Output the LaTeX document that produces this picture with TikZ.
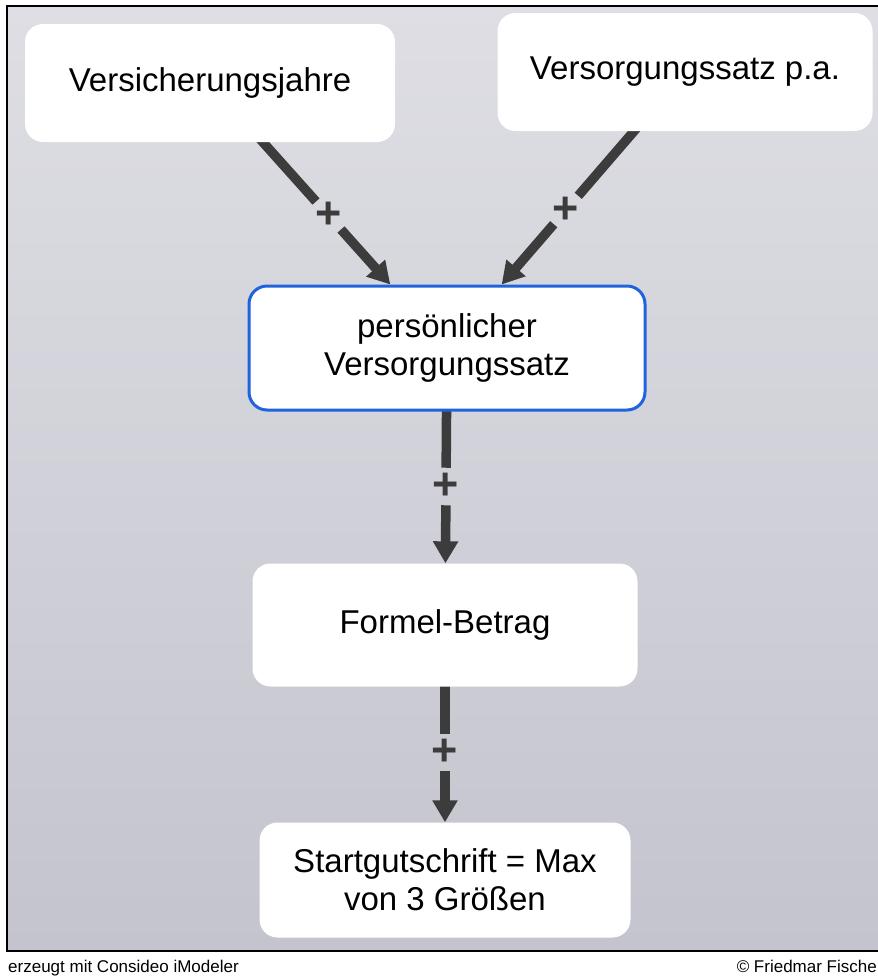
\documentclass[tikz,border=0pt]{standalone}
\usepackage{fontspec}
\setmainfont{Liberation Sans}
\usetikzlibrary{arrows.meta,calc,positioning}
\definecolor{bgtop}{RGB}{222,222,228}
\definecolor{bgbot}{RGB}{196,196,206}
\definecolor{arrowgray}{RGB}{60,60,60}
\definecolor{frameblue}{RGB}{30,100,220}
\pgfdeclarelayer{bg}
\pgfdeclarelayer{edges}
\pgfsetlayers{bg,edges,main}
\tikzset{
  var/.style={rectangle,rounded corners=18pt,fill=white,align=center,
    font=\fontsize{33}{38}\selectfont},
  link/.style={draw=arrowgray,line width=9.5pt},
  linkarrow/.style={link,-{Triangle[width=24pt,length=22pt]}},
  plus/.style={circle,inner sep=0pt,minimum size=34pt,text=arrowgray,
    font=\fontsize{45}{45}\selectfont\bfseries},
  foot/.style={inner sep=0pt,font=\fontsize{17}{20}\selectfont}
}
\begin{document}
\begin{tikzpicture}[x=1pt,y=-1pt]
\useasboundingbox (0,0) rectangle (878,978);
\begin{pgfonlayer}{bg}
\shade[top color=bgtop,bottom color=bgbot] (7,6) rectangle (895,951);
\draw[line width=2.5pt] (7,6) rectangle (895,951);
\end{pgfonlayer}
\path
(210,83)  node[var,minimum width=370pt,minimum height=118pt] (jahre) {Versicherungsjahre}
(685,72)  node[var,minimum width=375pt,minimum height=118pt] (satzpa) {Versorgungssatz p.a.}
(447,348) node[var,draw=frameblue,line width=3pt,minimum width=396pt,minimum height=124pt] (psatz) {persönlicher\\Versorgungssatz}
(445,625) node[var,minimum width=385pt,minimum height=123pt] (formel) {Formel-Betrag}
(445,880) node[var,minimum width=371pt,minimum height=115pt] (start) {Startgutschrift = Max\\von 3 Größen};
% polarity signs
\node[plus] (p1) at ($(jahre)!.5!(psatz)$)  {+};
\node[plus] (p2) at ($(satzpa)!.5!(psatz)$) {+};
\node[plus] (p3) at ($(psatz)!.5!(formel)$) {+};
\node[plus] (p4) at ($(formel)!.5!(start)$) {+};
\begin{pgfonlayer}{edges}
\draw[link] (jahre.center)--(p1);
\draw[linkarrow] (p1)--(psatz);
\draw[link] (satzpa.center)--(p2);
\draw[linkarrow] (p2)--(psatz);
\draw[link] (psatz.center)--(p3);
\draw[linkarrow] (p3)--(formel);
\draw[link] (formel.center)--(p4);
\draw[linkarrow] (p4)--(start);
\end{pgfonlayer}
% footer
\node[foot,anchor=base west] (made) at (8,972) {erzeugt mit Consideo iModeler};
\node[foot,anchor=base east] (copy) at (877,972) {© Friedmar Fische};
\end{tikzpicture}
\end{document}
